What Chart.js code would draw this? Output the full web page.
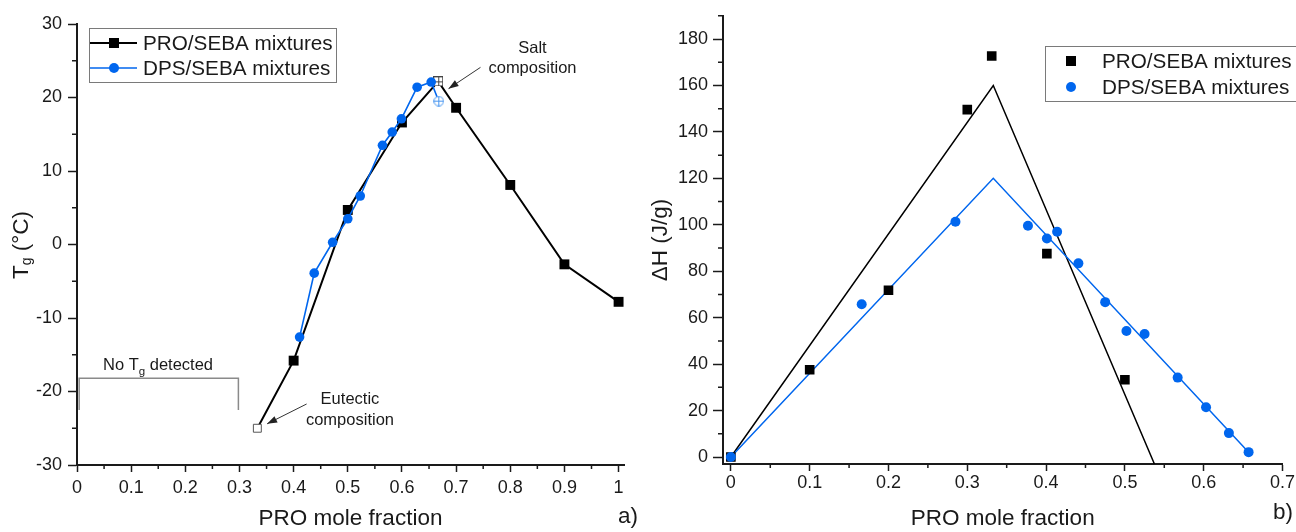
<!DOCTYPE html>
<html>
<head>
<meta charset="utf-8">
<script src="https://cdn.jsdelivr.net/npm/chart.js@4.4.1/dist/chart.umd.min.js"></script>
<style>
  html, body { margin: 0; padding: 0; background: #fff; }
  #wrap { position: relative; width: 1296px; height: 532px; overflow: hidden; }
  #tgChart { position: absolute; left: 0; top: 0; }
  #dhChart { position: absolute; left: 640px; top: 0; }
</style>
</head>
<body>
<div id="wrap">
  <canvas id="tgChart" width="640" height="532"></canvas>
  <canvas id="dhChart" width="656" height="532"></canvas>
</div>
<script>
const FONT = "'Liberation Sans', Arial, sans-serif";
const INK = '#1a1a1a';
const BLUE = '#0066ee';

// a) glass transition temperature vs PRO mole fraction
const tgProX = [0.333, 0.4, 0.5, 0.6, 0.667, 0.7, 0.8, 0.9, 1.0];
const tgProY = [-25, -15.8, 4.7, 16.6, 22.2, 18.6, 8.1, -2.7, -7.8];
const tgDpsX = [0.411, 0.438, 0.472, 0.5, 0.523, 0.564, 0.582, 0.599, 0.628, 0.654, 0.668];
const tgDpsY = [-12.6, -3.9, 0.3, 3.5, 6.6, 13.5, 15.3, 17.1, 21.4, 22.1, 19.5];
const eutecticIdx = 0;   // open square in PRO series
const saltIdx = 4;       // crossed square in PRO series
const tgXTicks = [0, 0.1, 0.2, 0.3, 0.4, 0.5, 0.6, 0.7, 0.8, 0.9, 1];
const tgXMinor = [0.05, 0.15, 0.25, 0.35, 0.45, 0.55, 0.65, 0.75, 0.85, 0.95];
const tgYTicks = [-30, -20, -10, 0, 10, 20, 30];
const tgYMinor = [-25, -15, -5, 5, 15, 25];

// b) enthalpy vs PRO mole fraction
const dhProX = [0, 0.1, 0.2, 0.3, 0.331, 0.401, 0.5];
const dhProY = [0, 37.6, 71.8, 149.6, 172.7, 87.6, 33.3];
const dhDpsX = [0, 0.166, 0.285, 0.377, 0.401, 0.414, 0.441, 0.475, 0.502, 0.525, 0.567, 0.603, 0.632, 0.657];
const dhDpsY = [0, 65.8, 101.3, 99.6, 94.1, 97, 83.4, 66.7, 54.3, 53, 34.2, 21.4, 10.3, 2.1];
const fitProX = [0, 0.333, 0.5375];
const fitProY = [0, 160, -3];
const fitDpsX = [0, 0.333, 0.657];
const fitDpsY = [0, 120, 2.1];
const dhXTicks = [0, 0.1, 0.2, 0.3, 0.4, 0.5, 0.6, 0.7];
const dhXMinor = [0.05, 0.15, 0.25, 0.35, 0.45, 0.55, 0.65];
const dhYTicks = [0, 20, 40, 60, 80, 100, 120, 140, 160, 180];
const dhYMinor = [10, 30, 50, 70, 90, 110, 130, 150, 170, 190];

// annotations on panel a), in data units
const noTgBracketX = [0.004, 0.004, 0.298, 0.298];
const noTgBracketY = [-22.5, -18.2, -18.2, -22.5];
const saltArrow = [0.745, 24.1, 0.686, 21.2];
const eutecticArrow = [0.424, -21.7, 0.351, -24.4];

Chart.defaults.font.family = FONT;
Chart.defaults.color = INK;

function pts(xs, ys) { return xs.map((x, i) => ({ x: x, y: ys[i] })); }
function setTicks(values) { return s => { s.ticks = values.map(v => ({ value: v })); }; }

function crossSquare(size, color) {
  const c = document.createElement('canvas');
  c.width = c.height = size;
  const g = c.getContext('2d');
  g.fillStyle = '#fff'; g.fillRect(0, 0, size, size);
  g.strokeStyle = color; g.lineWidth = 1;
  g.strokeRect(0.5, 0.5, size - 1, size - 1);
  const m = Math.floor(size / 2) + 0.5;
  g.beginPath(); g.moveTo(m, 0); g.lineTo(m, size); g.moveTo(0, m); g.lineTo(size, m); g.stroke();
  return c;
}
function crossCircle(size, color) {
  const c = document.createElement('canvas');
  c.width = c.height = size;
  const g = c.getContext('2d');
  const m = size / 2;
  g.fillStyle = '#fff';
  g.strokeStyle = color; g.lineWidth = 1;
  g.beginPath(); g.arc(m, m, m - 0.7, 0, Math.PI * 2); g.fill(); g.stroke();
  g.beginPath(); g.moveTo(m, 0.5); g.lineTo(m, size - 0.5); g.moveTo(0.5, m); g.lineTo(size - 0.5, m); g.stroke();
  return c;
}
const saltMark = crossSquare(10, '#444');
const saltDps = crossCircle(11, '#4a97f0');

function minorTicks(chart, axis, values, len) {
  const s = chart.scales[axis], ctx = chart.ctx, a = chart.chartArea;
  ctx.save();
  ctx.strokeStyle = INK; ctx.lineWidth = 1.5;
  ctx.beginPath();
  values.forEach(v => {
    const p = s.getPixelForValue(v);
    if (s.isHorizontal()) { ctx.moveTo(p, a.bottom); ctx.lineTo(p, a.bottom + len); }
    else { ctx.moveTo(a.left, p); ctx.lineTo(a.left - len, p); }
  });
  ctx.stroke();
  ctx.restore();
}

function arrow(ctx, x1, y1, x2, y2) {
  ctx.beginPath(); ctx.moveTo(x1, y1); ctx.lineTo(x2, y2); ctx.stroke();
  const ang = Math.atan2(y2 - y1, x2 - x1), L = 10, W = 3.5;
  const bx = x2 - L * Math.cos(ang), by = y2 - L * Math.sin(ang);
  ctx.beginPath(); ctx.moveTo(x2, y2);
  ctx.lineTo(bx + W * Math.sin(ang), by - W * Math.cos(ang));
  ctx.lineTo(bx - W * Math.sin(ang), by + W * Math.cos(ang));
  ctx.closePath(); ctx.fill();
}

// text with subscript pieces: parts = [[text, size, dy]]
function partsText(ctx, parts, x, y, align) {
  let total = 0;
  parts.forEach(p => { ctx.font = p[1] + 'px ' + FONT; total += ctx.measureText(p[0]).width; });
  let cx = align === 'center' ? x - total / 2 : x;
  ctx.textAlign = 'left';
  parts.forEach(p => {
    ctx.font = p[1] + 'px ' + FONT;
    ctx.fillText(p[0], cx, y + p[2]);
    cx += ctx.measureText(p[0]).width;
  });
}

function legendBox(ctx, box, items) {
  ctx.save();
  ctx.strokeStyle = '#7a7a7a'; ctx.lineWidth = 1;
  ctx.strokeRect(box[0] + 0.5, box[1] + 0.5, box[2], box[3]);
  items.forEach(it => {
    if (it.line) {
      ctx.strokeStyle = it.color; ctx.lineWidth = it.lineWidth;
      ctx.beginPath(); ctx.moveTo(it.lx[0], it.y); ctx.lineTo(it.lx[1], it.y); ctx.stroke();
    }
    ctx.fillStyle = it.color;
    if (it.marker === 'rect') ctx.fillRect(it.mx - 5, it.y - 5, 10, 10);
    else { ctx.beginPath(); ctx.arc(it.mx, it.y, 5, 0, Math.PI * 2); ctx.fill(); }
    ctx.fillStyle = INK;
    ctx.font = '20.7px ' + FONT;
    ctx.textAlign = 'left'; ctx.textBaseline = 'middle';
    ctx.fillText(it.label, it.tx, it.y + 1);
  });
  ctx.restore();
}

const tgDecor = {
  id: 'tgDecor',
  afterDraw(chart) {
    const ctx = chart.ctx, xs = chart.scales.x, ys = chart.scales.y;
    const px = v => xs.getPixelForValue(v), py = v => ys.getPixelForValue(v);
    minorTicks(chart, 'x', tgXMinor, 4);
    minorTicks(chart, 'y', tgYMinor, 5);

    ctx.save();
    // no Tg bracket
    ctx.strokeStyle = '#8a8a8a'; ctx.lineWidth = 1.5;
    ctx.beginPath();
    noTgBracketX.forEach((x, i) => { if (i === 0) ctx.moveTo(px(x), py(noTgBracketY[i])); else ctx.lineTo(px(x), py(noTgBracketY[i])); });
    ctx.stroke();
    ctx.fillStyle = INK; ctx.textBaseline = 'alphabetic';
    partsText(ctx, [['No T', 16.5, 0], ['g', 11.5, 5], [' detected', 16.5, 0]], px(0.048), py(-17.07), 'left');

    // arrows
    ctx.strokeStyle = '#333'; ctx.fillStyle = '#222'; ctx.lineWidth = 1;
    arrow(ctx, px(saltArrow[0]), py(saltArrow[1]), px(saltArrow[2]), py(saltArrow[3]));
    arrow(ctx, px(eutecticArrow[0]), py(eutecticArrow[1]), px(eutecticArrow[2]), py(eutecticArrow[3]));
    ctx.fillStyle = INK; ctx.font = '16.5px ' + FONT; ctx.textAlign = 'center';
    ctx.fillText('Salt', px(0.841), py(26.05));
    ctx.fillText('composition', px(0.841), py(23.33));
    ctx.fillText('Eutectic', px(0.504), py(-21.7));
    ctx.fillText('composition', px(0.504), py(-24.6));

    // y title with subscript
    ctx.translate(22, 245);
    ctx.rotate(-Math.PI / 2);
    ctx.textBaseline = 'middle';
    partsText(ctx, [['T', 22.5, 0], ['g', 14, 5], [' (°C)', 22.5, 0]], 0, 0, 'center');
    ctx.restore();

    ctx.save();
    ctx.fillStyle = INK; ctx.font = '22.5px ' + FONT; ctx.textAlign = 'center'; ctx.textBaseline = 'middle';
    ctx.fillText('a)', 628, 517);
    ctx.restore();

    legendBox(ctx, [89, 28, 247, 54], [
      { label: 'PRO/SEBA mixtures', color: '#000', line: true, lineWidth: 2, lx: [90, 137], mx: 114, tx: 143, y: 43, marker: 'rect' },
      { label: 'DPS/SEBA mixtures', color: BLUE, line: true, lineWidth: 1.6, lx: [90, 137], mx: 114, tx: 143, y: 68, marker: 'circle' }
    ]);
  }
};

const dhDecor = {
  id: 'dhDecor',
  afterDraw(chart) {
    const ctx = chart.ctx;
    minorTicks(chart, 'x', dhXMinor, 4);
    minorTicks(chart, 'y', dhYMinor, 5);
    ctx.save();
    ctx.fillStyle = INK; ctx.font = '22.5px ' + FONT; ctx.textAlign = 'center'; ctx.textBaseline = 'middle';
    ctx.fillText('b)', 643, 513);
    ctx.restore();
    legendBox(ctx, [405, 46, 280, 55], [
      { label: 'PRO/SEBA mixtures', color: '#000', line: false, mx: 431, tx: 462, y: 61, marker: 'rect' },
      { label: 'DPS/SEBA mixtures', color: BLUE, line: false, mx: 431, tx: 462, y: 87, marker: 'circle' }
    ]);
  }
};

function axisX(min, max, ticks, height, pad) {
  return {
    type: 'linear', min: min, max: max,
    afterBuildTicks: setTicks(ticks),
    afterFit: s => { s.height = height; },
    border: { color: INK, width: 2 },
    grid: { drawOnChartArea: false, tickLength: 7, tickColor: INK, tickWidth: 1.5 },
    ticks: { font: { size: 18 }, color: INK, padding: pad, maxRotation: 0, autoSkip: false, callback: v => String(v) },
    title: { display: true, text: 'PRO mole fraction', font: { size: 22.5 }, color: INK, padding: 0 }
  };
}
function axisY(min, max, ticks, width, tl, pad) {
  return {
    type: 'linear', min: min, max: max,
    afterBuildTicks: setTicks(ticks),
    afterFit: s => { s.width = width; },
    border: { color: INK, width: 2 },
    grid: { drawOnChartArea: false, tickLength: tl, tickColor: INK, tickWidth: 1.5 },
    ticks: { font: { size: 18 }, color: INK, padding: pad, autoSkip: false, callback: v => String(v) }
  };
}

const baseOpts = {
  responsive: false, devicePixelRatio: 1, animation: false, events: [],
  plugins: { legend: { display: false }, tooltip: { enabled: false } }
};

new Chart(document.getElementById('tgChart'), {
  type: 'scatter',
  data: {
    datasets: [
      {
        label: 'DPS/SEBA mixtures', data: pts(tgDpsX, tgDpsY), showLine: true,
        borderColor: BLUE, borderWidth: 1.6, order: 0,
        pointStyle: tgDpsX.map((x, i) => i === tgDpsX.length - 1 ? saltDps : 'circle'),
        pointRadius: 4.8, pointBackgroundColor: BLUE, pointBorderWidth: 0
      },
      {
        label: 'PRO/SEBA mixtures', data: pts(tgProX, tgProY), showLine: true,
        borderColor: '#000', borderWidth: 2, order: 1,
        pointStyle: tgProX.map((x, i) => i === saltIdx ? saltMark : 'rect'),
        pointRadius: tgProX.map((x, i) => i === eutecticIdx ? 5.6 : 7),
        pointBackgroundColor: tgProX.map((x, i) => i === eutecticIdx ? '#fff' : '#000'),
        pointBorderColor: tgProX.map((x, i) => i === eutecticIdx ? '#555' : '#000'),
        pointBorderWidth: tgProX.map((x, i) => i === eutecticIdx ? 1 : 0)
      }
    ]
  },
  options: Object.assign({}, baseOpts, {
    layout: { padding: { top: 24, right: 16, bottom: 0, left: 0 } },
    scales: {
      x: axisX(0, 1.01, tgXTicks, 67, 5),
      y: axisY(-30, 30, tgYTicks, 77, 9, 6)
    }
  }),
  plugins: [tgDecor]
});

const dhY = axisY(-3, 190, dhYTicks, 83, 10, 5);
dhY.title = { display: true, text: 'ΔH (J/g)', font: { size: 22.5 }, color: INK, padding: { top: 7, bottom: 0 } };

new Chart(document.getElementById('dhChart'), {
  type: 'scatter',
  data: {
    datasets: [
      {
        label: 'DPS/SEBA mixtures', data: pts(dhDpsX, dhDpsY), order: 0,
        pointStyle: 'circle', pointRadius: 5, pointBackgroundColor: BLUE, pointBorderWidth: 0
      },
      {
        label: 'PRO/SEBA mixtures', data: pts(dhProX, dhProY), order: 1,
        pointStyle: 'rect', pointRadius: 6.8, pointBackgroundColor: '#000', pointBorderWidth: 0
      },
      {
        label: 'DPS fit', data: pts(fitDpsX, fitDpsY), showLine: true, order: 2,
        borderColor: BLUE, borderWidth: 1.5, pointRadius: 0
      },
      {
        label: 'PRO fit', data: pts(fitProX, fitProY), showLine: true, order: 3,
        borderColor: '#000', borderWidth: 1.5, pointRadius: 0
      }
    ]
  },
  options: Object.assign({}, baseOpts, {
    layout: { padding: { top: 13, right: 13, bottom: 0, left: 0 } },
    scales: {
      x: axisX(-0.01, 0.7, dhXTicks, 68, 1),
      y: dhY
    }
  }),
  plugins: [dhDecor]
});
</script>
</body>
</html>
